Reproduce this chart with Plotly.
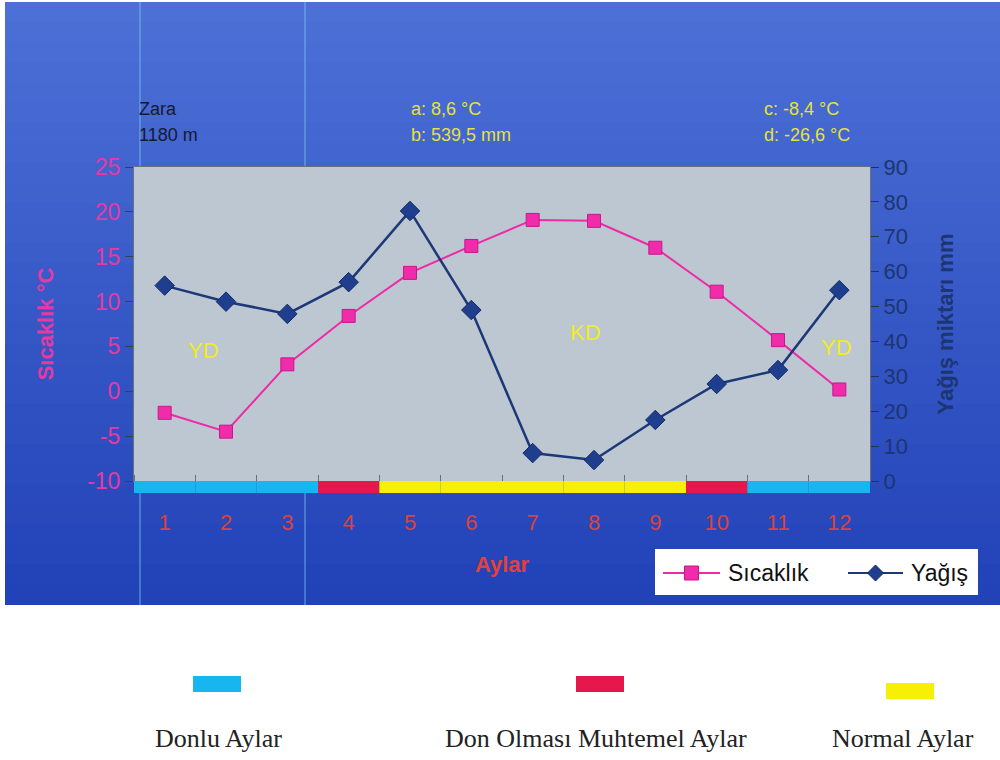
import plotly.graph_objects as go

# Monthly climate data for Zara (1180 m)
months = list(range(1, 13))
month_labels = [str(m) for m in months]
temperature = [-2.4, -4.5, 3.0, 8.4, 13.2, 16.2, 19.1, 19.0, 16.0, 11.1, 5.7, 0.2]   # °C
precipitation = [56.0, 51.4, 47.9, 57.0, 77.4, 49.0, 8.0, 6.0, 17.5, 27.8, 31.8, 54.7]  # mm

temp_ticks = [-10, -5, 0, 5, 10, 15, 20, 25]
temp_tick_labels = ["-10", "-5", "0", "5", "10", "15", "20", "25"]
prec_ticks = [0, 10, 20, 30, 40, 50, 60, 70, 80, 90]

# Frost class of each month: 0 = frosty, 1 = frost likely, 2 = normal
frost_class = [0, 0, 0, 1, 2, 2, 2, 2, 2, 1, 0, 0]
frost_names = ["Donlu Aylar", "Don Olması Muhtemel Aylar", "Normal Aylar"]
frost_colors = ["#17b6ee", "#e6174c", "#f7ef05"]

series_names = ["Sıcaklık", "Yağış"]
series_colors = ["#ee2aa6", "#1d3878"]
marker_colors = ["#f02cab", "#1f3f8e"]

header_left = ["Zara", "1180 m"]
header_mid = ["a: 8,6 °C", "b: 539,5 mm"]
header_right = ["c: -8,4 °C", "d: -26,6 °C"]

W, H = 1000, 760
L, R, T, B = 134, 870, 167, 481


def px(x):
    return (x - L) / (R - L)


def py(y):
    return (B - y) / (B - T)


fig = go.Figure()

fig.add_trace(go.Scatter(
    x=months, y=temperature, name=series_names[0], mode="lines+markers",
    line=dict(color=series_colors[0], width=2),
    marker=dict(symbol="square", size=13, color=marker_colors[0],
                line=dict(color="#c8168c", width=1)),
))
fig.add_trace(go.Scatter(
    x=months, y=precipitation, name=series_names[1], mode="lines+markers", yaxis="y2",
    line=dict(color=series_colors[1], width=2.5),
    marker=dict(symbol="diamond", size=15, color=marker_colors[1],
                line=dict(color="#142a66", width=1)),
))

shapes = []
annotations = []

# blue backdrop with a soft vertical gradient
top_rgb = (76, 112, 214)
bot_rgb = (34, 66, 184)
y_top, y_bot = 2, 605
n = 30
for i in range(n):
    f = i / (n - 1)
    c = tuple(int(round(top_rgb[k] + (bot_rgb[k] - top_rgb[k]) * f)) for k in range(3))
    y0 = y_top + (y_bot - y_top) * i / n
    y1 = min(y_bot, y_top + (y_bot - y_top) * (i + 1) / n + 3)
    shapes.append(dict(type="rect", xref="paper", yref="paper", layer="below",
                       x0=px(5), x1=px(1000), y0=py(y1), y1=py(y0),
                       fillcolor="rgb(%d,%d,%d)" % c, line=dict(width=0)))

# thin light guide lines across the backdrop
for gx in (140, 305):
    shapes.append(dict(type="line", xref="paper", yref="paper", layer="below",
                       x0=px(gx), x1=px(gx), y0=py(y_bot), y1=py(y_top),
                       line=dict(color="rgba(120,200,235,0.8)", width=1)))

# plot area panel
shapes.append(dict(type="rect", xref="paper", yref="paper", layer="below",
                   x0=0, x1=1, y0=0, y1=1, fillcolor="#bcc7d2", line=dict(width=0)))

# series key: white box, line samples with markers, labels
shapes.append(dict(type="rect", xref="paper", yref="paper",
                   x0=px(655), x1=px(978), y0=py(595), y1=py(549),
                   fillcolor="white", line=dict(width=0)))
key_y = 573
sample_x = [(663, 720), (848, 903)]
for k, ((xa, xb), name) in enumerate(zip(sample_x, series_names)):
    shapes.append(dict(type="line", xref="paper", yref="paper",
                       x0=px(xa), x1=px(xb), y0=py(key_y), y1=py(key_y),
                       line=dict(color=series_colors[k], width=2)))
    cx = (xa + xb) / 2
    if k == 0:
        shapes.append(dict(type="rect", xref="paper", yref="paper",
                           x0=px(cx - 7), x1=px(cx + 7), y0=py(key_y + 7), y1=py(key_y - 7),
                           fillcolor=marker_colors[0], line=dict(color="#c8168c", width=1)))
    else:
        d = 8
        path = "M {a},{b} L {c},{e} L {a},{f} L {g},{e} Z".format(
            a=px(cx), b=py(key_y - d), c=px(cx + d), e=py(key_y),
            f=py(key_y + d), g=px(cx - d))
        shapes.append(dict(type="path", xref="paper", yref="paper", path=path,
                           fillcolor=marker_colors[1], line=dict(color="#142a66", width=1)))
    annotations.append(dict(xref="paper", yref="paper", x=px(xb + 6), y=py(key_y),
                            text=name, showarrow=False, xanchor="left", yanchor="middle",
                            font=dict(family="Arial", size=23, color="#111111")))

# frost-class strip under the plot area
for m, fc in zip(months, frost_class):
    shapes.append(dict(type="rect", xref="x", yref="paper",
                       x0=m - 0.5, x1=m + 0.5, y0=py(493), y1=py(481),
                       fillcolor=frost_colors[fc], line=dict(width=0)))

# frost-class key below the chart
key_boxes = [(193, 676), (576, 676), (886, 683)]
key_text_x = [218, 596, 903]
for (bx, by), col in zip(key_boxes, frost_colors):
    shapes.append(dict(type="rect", xref="paper", yref="paper",
                       x0=px(bx), x1=px(bx + 48), y0=py(by + 16), y1=py(by),
                       fillcolor=col, line=dict(width=0)))

for name, tx in zip(frost_names, key_text_x):
    annotations.append(dict(xref="paper", yref="paper", x=px(tx), y=py(738),
                            text=name, showarrow=False, xanchor="center", yanchor="middle",
                            font=dict(family="Liberation Serif", size=26, color="#222222")))

hfont = dict(family="Arial", size=18)
for i, t in enumerate(header_left):
    annotations.append(dict(xref="paper", yref="paper", x=px(137), y=py(109 + 26 * i),
                            text=t, showarrow=False, xanchor="left", yanchor="middle",
                            font=dict(hfont, color="#151a30")))
for i, t in enumerate(header_mid):
    annotations.append(dict(xref="paper", yref="paper", x=px(409), y=py(109 + 26 * i),
                            text=t, showarrow=False, xanchor="left", yanchor="middle",
                            font=dict(hfont, color="#e6e23a")))
for i, t in enumerate(header_right):
    annotations.append(dict(xref="paper", yref="paper", x=px(762), y=py(109 + 26 * i),
                            text=t, showarrow=False, xanchor="left", yanchor="middle",
                            font=dict(hfont, color="#e6e23a")))

# period labels inside the plot
for t, xx, yy in [("YD", 203, 350), ("KD", 585, 332), ("YD", 836, 347)]:
    annotations.append(dict(xref="paper", yref="paper", x=px(xx), y=py(yy),
                            text=t, showarrow=False, xanchor="center", yanchor="middle",
                            font=dict(family="Arial", size=22, color="#f2ec1c")))

fig.update_layout(
    width=W, height=H,
    margin=dict(l=L, r=W - R, t=T, b=H - B, autoexpand=False),
    paper_bgcolor="white",
    plot_bgcolor="rgba(0,0,0,0)",
    font=dict(family="Arial"),
    showlegend=False,
    shapes=shapes,
    annotations=annotations,
    xaxis=dict(
        range=[0.5, 12.5], tickvals=months, ticktext=month_labels,
        showgrid=False, zeroline=False, automargin=False,
        showline=True, linecolor="#6a6f78", linewidth=1, mirror=True,
        ticks="", ticklabelstandoff=22,
        tickfont=dict(size=22, color="#d8433e"),
        minor=dict(ticks="inside", tick0=0.5, dtick=1, ticklen=6, tickcolor="#6a6f78"),
        title=dict(text="<b>Aylar</b>", font=dict(size=22, color="#e2403a"), standoff=22),
    ),
    yaxis=dict(
        range=[-10, 25], tickvals=temp_ticks, ticktext=temp_tick_labels,
        showgrid=False, zeroline=False, automargin=False,
        showline=True, linecolor="#6a6f78", linewidth=1,
        ticks="outside", ticklen=8, tickcolor="#3a3f50",
        tickfont=dict(size=23, color="#e33aa3"),
        title=dict(text="<b>Sıcaklık °C</b>", font=dict(size=22, color="#e33aa3"), standoff=27),
    ),
    yaxis2=dict(
        range=[0, 90], tickvals=prec_ticks, overlaying="y", side="right",
        showgrid=False, zeroline=False, automargin=False,
        showline=True, linecolor="#6a6f78", linewidth=1,
        ticks="outside", ticklen=8, tickcolor="#2a3050",
        tickfont=dict(size=22, color="#1d3572"),
        title=dict(text="<b>Yağış miktarı mm</b>", font=dict(size=22, color="#1d3572"), standoff=30),
    ),
)

fig.write_html("out.html")
